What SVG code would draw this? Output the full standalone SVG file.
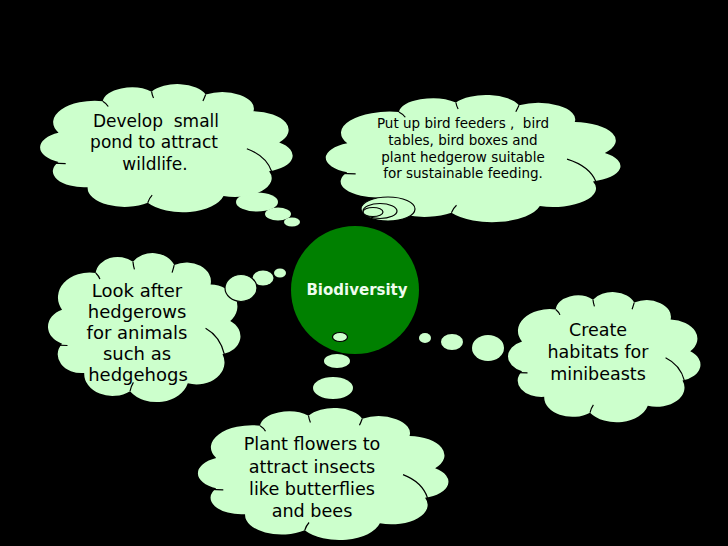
<svg xmlns="http://www.w3.org/2000/svg" xmlns:xlink="http://www.w3.org/1999/xlink" width="728" height="546" viewBox="0 0 728 546">
<style>
.cl{fill:#ccffcc}
.fold{fill:none;stroke:#000;stroke-width:1.2;vector-effect:non-scaling-stroke}
.bub{fill:#ccffcc}
.bubo{fill:#ccffcc;stroke:#000;stroke-width:1.2}
.t{font-family:"Comic Sans MS","DejaVu Sans",sans-serif;fill:#000;text-anchor:middle}
</style>
<defs>
<symbol id="cloud" viewBox="0 0 100 100" preserveAspectRatio="none">
<path class="cl" d="M10.4,39.6 A15.2,15.2 0 0 1 26.5,17.2 A10.5,10.5 0 0 1 44.3,10.4 A10.9,10.9 0 0 1 64,12.4 A11.6,11.6 0 0 1 81.4,24.3 A13.3,13.3 0 0 1 90.8,46.5 A11.4,11.4 0 0 1 87.1,66.9 A13.4,13.4 0 0 1 70.5,84.6 A15.4,15.4 0 0 1 42.9,89.4 A13.5,13.5 0 0 1 21,78.3 A11.4,11.4 0 0 1 10.4,60.4 A11.4,11.4 0 0 1 10.4,39.6 Z"/>
<path class="fold" d="M3,60.5 Q8,61.5 13,61.5"/>
<path class="fold" d="M79,51 Q86,56 88,67"/>
<path class="fold" d="M26.5,17.2 Q28,19 28.5,21"/>
<path class="fold" d="M44.3,10.4 Q44.5,13 45,15"/>
<path class="fold" d="M64,12.4 Q63.5,15 63,17"/>
<path class="fold" d="M42.9,89.4 Q43.5,86 44.5,84"/>
</symbol>
</defs>
<rect width="728" height="546" fill="#000"/>

<g id="connectors">
<ellipse class="bub" cx="257" cy="202" rx="21" ry="9.5"/>
<ellipse class="bub" cx="278" cy="214" rx="13" ry="6.5"/>
<ellipse class="bub" cx="292" cy="222" rx="8" ry="4.5"/>
<ellipse class="bub" cx="263" cy="278" rx="10.5" ry="7.5"/>
<ellipse class="bub" cx="280" cy="273" rx="6" ry="4.5"/>
<ellipse class="bub" cx="425" cy="338" rx="6" ry="5"/>
<ellipse class="bub" cx="452" cy="342" rx="11" ry="8"/>
<ellipse class="bub" cx="488" cy="348" rx="16" ry="13"/>
<ellipse class="bub" cx="337" cy="361" rx="13" ry="7"/>
<ellipse class="bub" cx="333" cy="388" rx="20" ry="11"/>
</g>

<g id="node-pond">
<use xlink:href="#cloud" x="30" y="77" width="274.5" height="140.7"/>
<text class="t" font-size="17" xml:space="preserve"><tspan x="156" y="127">Develop  small</tspan><tspan x="154" y="148">pond to attract</tspan><tspan x="155" y="170">wildlife.</tspan></text>
</g>

<g id="node-birds">
<use xlink:href="#cloud" x="314" y="88" width="320.3" height="139.6"/>
<ellipse class="bubo" cx="388" cy="209" rx="27" ry="12"/>
<ellipse class="bubo" cx="380" cy="211" rx="17" ry="7.5"/>
<ellipse class="bubo" cx="373" cy="212" rx="10" ry="4.5"/>
<text class="t" font-size="13.5" xml:space="preserve"><tspan x="463" y="128">Put up bird feeders ,  bird</tspan><tspan x="463" y="145">tables, bird boxes and</tspan><tspan x="463" y="161.5">plant hedgerow suitable</tspan><tspan x="463" y="178">for sustainable feeding.</tspan></text>
</g>

<g id="node-hedgerows">
<use xlink:href="#cloud" x="40.3" y="244.8" width="209.2" height="163.7"/>
<ellipse class="bubo" cx="241" cy="288" rx="16" ry="13.5"/>
<text class="t" font-size="18"><tspan x="137" y="297">Look after</tspan><tspan x="137" y="318">hedgerows</tspan><tspan x="137" y="339">for animals</tspan><tspan x="137" y="360">such as</tspan><tspan x="138" y="381">hedgehogs</tspan></text>
</g>

<g id="node-minibeasts">
<use xlink:href="#cloud" x="500.3" y="284.9" width="209.2" height="142.9"/>
<text class="t" font-size="17.5"><tspan x="598" y="336">Create</tspan><tspan x="598" y="358">habitats for</tspan><tspan x="598" y="380">minibeasts</tspan></text>
</g>

<g id="node-flowers">
<use xlink:href="#cloud" x="187.9" y="400.7" width="272.3" height="145"/>
<text class="t" font-size="17.6"><tspan x="312" y="450">Plant flowers to</tspan><tspan x="312" y="473">attract insects</tspan><tspan x="312" y="495">like butterflies</tspan><tspan x="312" y="517">and bees</tspan></text>
</g>

<g id="node-biodiversity">
<circle cx="355" cy="290" r="64" fill="#008000"/>
<ellipse class="bubo" cx="340" cy="337" rx="7.5" ry="4.5"/>
<text x="357" y="295" font-family="'Comic Sans MS','DejaVu Sans',sans-serif" font-size="15" font-weight="bold" fill="#eefcee" text-anchor="middle">Biodiversity</text>
</g>
</svg>
